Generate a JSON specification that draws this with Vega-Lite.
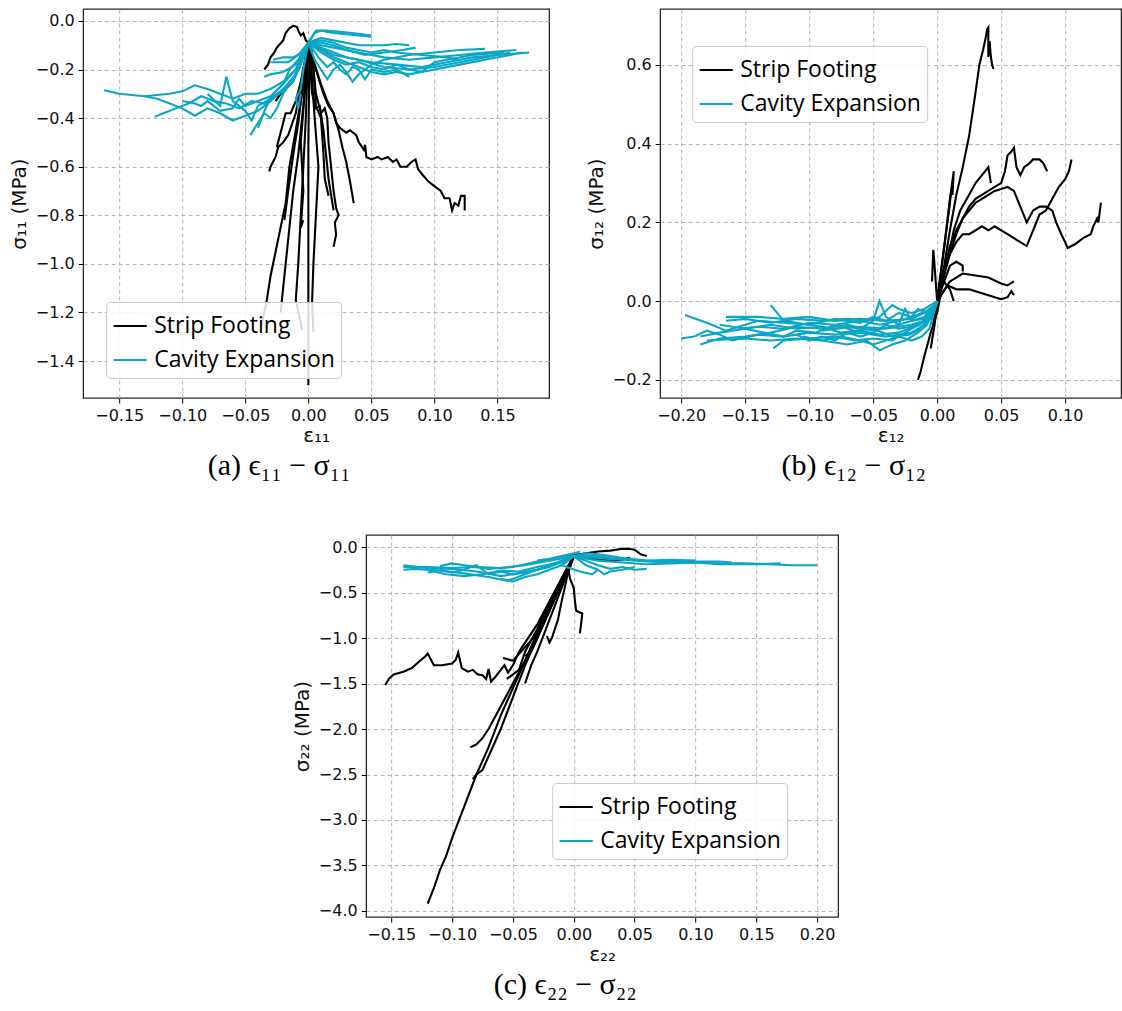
{
"$schema": "https://vega.github.io/schema/vega-lite/v6.json",
"padding": {"left": 8, "top": 8, "right": 2, "bottom": 5},
"config": {
 "view": {"stroke": "#262626", "strokeWidth": 1.3},
 "axis": {"grid": true, "gridDash": [4, 3], "gridColor": "#b5b5b5", "gridWidth": 1, "domain": false, "tickColor": "#000", "tickSize": 5, "tickWidth": 1, "labelFont": "DejaVu Sans", "labelFontSize": 16, "labelColor": "#111", "titleFont": "DejaVu Sans", "titleFontSize": 20, "titleFontWeight": "normal", "titleColor": "#111", "labelPadding": 4, "titlePadding": 6, "labelFlush": false, "labelOverlap": false},
 "axisX": {"titlePadding": 2},
 "legend": {"orient": "none", "title": null, "fillColor": "rgba(255,255,255,0.85)", "strokeColor": "#cccccc", "cornerRadius": 4, "padding": 6, "symbolType": "stroke", "symbolStrokeWidth": 3, "symbolSize": 1100, "labelFont": "Open Sans", "labelFontSize": 23, "labelLimit": 0, "labelColor": "#000", "rowPadding": 4, "labelOffset": 6},
 "title": {"font": "Liberation Serif", "fontSize": 30, "fontWeight": "normal", "color": "#000", "orient": "bottom", "frame": "bounds", "anchor": "middle", "offset": 6},
 "line": {"strokeWidth": 2.1, "clip": true}
},
"datasets": {
"a": [
{"s":"Strip Footing","k":1,"x":-0.035,"y":-0.2},{"s":"Strip Footing","k":1,"x":-0.032,"y":-0.18},{"s":"Strip Footing","k":1,"x":-0.03,"y":-0.15},{"s":"Strip Footing","k":1,"x":-0.027,"y":-0.13},{"s":"Strip Footing","k":1,"x":-0.025,"y":-0.11},{"s":"Strip Footing","k":1,"x":-0.02,"y":-0.08},{"s":"Strip Footing","k":1,"x":-0.018,"y":-0.05},{"s":"Strip Footing","k":1,"x":-0.015,"y":-0.03},{"s":"Strip Footing","k":1,"x":-0.012,"y":-0.02},{"s":"Strip Footing","k":1,"x":-0.009,"y":-0.025},{"s":"Strip Footing","k":1,"x":-0.008,"y":-0.04},{"s":"Strip Footing","k":1,"x":-0.006,"y":-0.06},{"s":"Strip Footing","k":1,"x":-0.004,"y":-0.05},{"s":"Strip Footing","k":1,"x":-0.002,"y":-0.08},{"s":"Strip Footing","k":1,"x":0,"y":-0.09},
{"s":"Strip Footing","k":2,"x":0,"y":-0.09},{"s":"Strip Footing","k":2,"x":0.005,"y":-0.18},{"s":"Strip Footing","k":2,"x":0.01,"y":-0.26},{"s":"Strip Footing","k":2,"x":0.015,"y":-0.33},{"s":"Strip Footing","k":2,"x":0.02,"y":-0.38},{"s":"Strip Footing","k":2,"x":0.022,"y":-0.42},{"s":"Strip Footing","k":2,"x":0.025,"y":-0.44},{"s":"Strip Footing","k":2,"x":0.03,"y":-0.46},{"s":"Strip Footing","k":2,"x":0.033,"y":-0.45},{"s":"Strip Footing","k":2,"x":0.038,"y":-0.47},{"s":"Strip Footing","k":2,"x":0.04,"y":-0.5},{"s":"Strip Footing","k":2,"x":0.044,"y":-0.53},{"s":"Strip Footing","k":2,"x":0.045,"y":-0.51},{"s":"Strip Footing","k":2,"x":0.046,"y":-0.56},{"s":"Strip Footing","k":2,"x":0.05,"y":-0.57},{"s":"Strip Footing","k":2,"x":0.055,"y":-0.56},{"s":"Strip Footing","k":2,"x":0.058,"y":-0.57},{"s":"Strip Footing","k":2,"x":0.063,"y":-0.56},{"s":"Strip Footing","k":2,"x":0.067,"y":-0.58},{"s":"Strip Footing","k":2,"x":0.07,"y":-0.57},{"s":"Strip Footing","k":2,"x":0.073,"y":-0.6},{"s":"Strip Footing","k":2,"x":0.078,"y":-0.6},{"s":"Strip Footing","k":2,"x":0.082,"y":-0.58},{"s":"Strip Footing","k":2,"x":0.085,"y":-0.57},{"s":"Strip Footing","k":2,"x":0.087,"y":-0.61},{"s":"Strip Footing","k":2,"x":0.09,"y":-0.63},{"s":"Strip Footing","k":2,"x":0.095,"y":-0.66},{"s":"Strip Footing","k":2,"x":0.1,"y":-0.68},{"s":"Strip Footing","k":2,"x":0.105,"y":-0.7},{"s":"Strip Footing","k":2,"x":0.108,"y":-0.73},{"s":"Strip Footing","k":2,"x":0.112,"y":-0.73},{"s":"Strip Footing","k":2,"x":0.114,"y":-0.78},{"s":"Strip Footing","k":2,"x":0.116,"y":-0.75},{"s":"Strip Footing","k":2,"x":0.119,"y":-0.76},{"s":"Strip Footing","k":2,"x":0.121,"y":-0.72},{"s":"Strip Footing","k":2,"x":0.124,"y":-0.72},{"s":"Strip Footing","k":2,"x":0.124,"y":-0.78},
{"s":"Strip Footing","k":3,"x":0,"y":-0.09},{"s":"Strip Footing","k":3,"x":0.006,"y":-0.2},{"s":"Strip Footing","k":3,"x":0.012,"y":-0.3},{"s":"Strip Footing","k":3,"x":0.016,"y":-0.35},{"s":"Strip Footing","k":3,"x":0.02,"y":-0.38},{"s":"Strip Footing","k":3,"x":0.024,"y":-0.45},{"s":"Strip Footing","k":3,"x":0.027,"y":-0.52},{"s":"Strip Footing","k":3,"x":0.03,"y":-0.58},{"s":"Strip Footing","k":3,"x":0.033,"y":-0.66},{"s":"Strip Footing","k":3,"x":0.035,"y":-0.72},{"s":"Strip Footing","k":3,"x":0.036,"y":-0.75},
{"s":"Strip Footing","k":4,"x":0.002,"y":-0.09},{"s":"Strip Footing","k":4,"x":0.006,"y":-0.3},{"s":"Strip Footing","k":4,"x":0.01,"y":-0.38},{"s":"Strip Footing","k":4,"x":0.013,"y":-0.36},{"s":"Strip Footing","k":4,"x":0.015,"y":-0.4},{"s":"Strip Footing","k":4,"x":0.016,"y":-0.5},{"s":"Strip Footing","k":4,"x":0.018,"y":-0.6},{"s":"Strip Footing","k":4,"x":0.02,"y":-0.7},{"s":"Strip Footing","k":4,"x":0.022,"y":-0.77},{"s":"Strip Footing","k":4,"x":0.024,"y":-0.8},{"s":"Strip Footing","k":4,"x":0.021,"y":-0.83},{"s":"Strip Footing","k":4,"x":0.022,"y":-0.88},{"s":"Strip Footing","k":4,"x":0.02,"y":-0.93},
{"s":"Strip Footing","k":5,"x":0,"y":-0.09},{"s":"Strip Footing","k":5,"x":0.003,"y":-0.3},{"s":"Strip Footing","k":5,"x":0.006,"y":-0.36},{"s":"Strip Footing","k":5,"x":0.009,"y":-0.35},{"s":"Strip Footing","k":5,"x":0.012,"y":-0.45},{"s":"Strip Footing","k":5,"x":0.014,"y":-0.55},{"s":"Strip Footing","k":5,"x":0.016,"y":-0.65},{"s":"Strip Footing","k":5,"x":0.02,"y":-0.78},
{"s":"Strip Footing","k":6,"x":0,"y":-0.09},{"s":"Strip Footing","k":6,"x":-0.005,"y":-0.3},{"s":"Strip Footing","k":6,"x":-0.01,"y":-0.45},{"s":"Strip Footing","k":6,"x":-0.015,"y":-0.6},{"s":"Strip Footing","k":6,"x":-0.018,"y":-0.75},{"s":"Strip Footing","k":6,"x":-0.022,"y":-0.85},{"s":"Strip Footing","k":6,"x":-0.026,"y":-0.95},{"s":"Strip Footing","k":6,"x":-0.03,"y":-1.05},{"s":"Strip Footing","k":6,"x":-0.033,"y":-1.15},{"s":"Strip Footing","k":6,"x":-0.037,"y":-1.25},
{"s":"Strip Footing","k":7,"x":0,"y":-0.09},{"s":"Strip Footing","k":7,"x":-0.004,"y":-0.35},{"s":"Strip Footing","k":7,"x":-0.008,"y":-0.55},{"s":"Strip Footing","k":7,"x":-0.012,"y":-0.7},{"s":"Strip Footing","k":7,"x":-0.015,"y":-0.85},{"s":"Strip Footing","k":7,"x":-0.018,"y":-1.0},{"s":"Strip Footing","k":7,"x":-0.02,"y":-1.1},{"s":"Strip Footing","k":7,"x":-0.022,"y":-1.2},
{"s":"Strip Footing","k":8,"x":0,"y":-0.09},{"s":"Strip Footing","k":8,"x":-0.002,"y":-0.4},{"s":"Strip Footing","k":8,"x":-0.004,"y":-0.6},{"s":"Strip Footing","k":8,"x":-0.006,"y":-0.8},{"s":"Strip Footing","k":8,"x":-0.008,"y":-1.0},{"s":"Strip Footing","k":8,"x":-0.01,"y":-1.15},{"s":"Strip Footing","k":8,"x":-0.007,"y":-1.22},{"s":"Strip Footing","k":8,"x":-0.005,"y":-1.27},
{"s":"Strip Footing","k":9,"x":0.001,"y":-0.09},{"s":"Strip Footing","k":9,"x":0,"y":-0.5},{"s":"Strip Footing","k":9,"x":0,"y":-1.0},{"s":"Strip Footing","k":9,"x":0,"y":-1.5},
{"s":"Strip Footing","k":10,"x":0.001,"y":-0.09},{"s":"Strip Footing","k":10,"x":0.005,"y":-0.4},{"s":"Strip Footing","k":10,"x":0.008,"y":-0.6},{"s":"Strip Footing","k":10,"x":0.006,"y":-0.8},{"s":"Strip Footing","k":10,"x":0.004,"y":-1.0},{"s":"Strip Footing","k":10,"x":0.003,"y":-1.15},{"s":"Strip Footing","k":10,"x":0.004,"y":-1.28},
{"s":"Strip Footing","k":11,"x":0,"y":-0.09},{"s":"Strip Footing","k":11,"x":-0.003,"y":-0.3},{"s":"Strip Footing","k":11,"x":-0.006,"y":-0.5},{"s":"Strip Footing","k":11,"x":-0.004,"y":-0.7},{"s":"Strip Footing","k":11,"x":-0.006,"y":-0.85},{"s":"Strip Footing","k":11,"x":-0.004,"y":-0.82},
{"s":"Strip Footing","k":12,"x":0,"y":-0.09},{"s":"Strip Footing","k":12,"x":-0.005,"y":-0.25},{"s":"Strip Footing","k":12,"x":-0.01,"y":-0.38},{"s":"Strip Footing","k":12,"x":-0.016,"y":-0.47},{"s":"Strip Footing","k":12,"x":-0.02,"y":-0.5},{"s":"Strip Footing","k":12,"x":-0.024,"y":-0.52},{"s":"Strip Footing","k":12,"x":-0.026,"y":-0.56},{"s":"Strip Footing","k":12,"x":-0.03,"y":-0.6},{"s":"Strip Footing","k":12,"x":-0.031,"y":-0.62},
{"s":"Strip Footing","k":13,"x":0,"y":-0.09},{"s":"Strip Footing","k":13,"x":-0.006,"y":-0.25},{"s":"Strip Footing","k":13,"x":-0.01,"y":-0.33},{"s":"Strip Footing","k":13,"x":-0.014,"y":-0.38},{"s":"Strip Footing","k":13,"x":-0.018,"y":-0.38},{"s":"Strip Footing","k":13,"x":-0.02,"y":-0.42},{"s":"Strip Footing","k":13,"x":-0.023,"y":-0.48},{"s":"Strip Footing","k":13,"x":-0.025,"y":-0.52},
{"s":"Strip Footing","k":14,"x":0,"y":-0.09},{"s":"Strip Footing","k":14,"x":-0.008,"y":-0.2},{"s":"Strip Footing","k":14,"x":-0.014,"y":-0.26},{"s":"Strip Footing","k":14,"x":-0.018,"y":-0.28},{"s":"Strip Footing","k":14,"x":-0.022,"y":-0.3},{"s":"Strip Footing","k":14,"x":-0.026,"y":-0.33},
{"s":"Strip Footing","k":15,"x":0,"y":-0.09},{"s":"Strip Footing","k":15,"x":0.004,"y":-0.2},{"s":"Strip Footing","k":15,"x":0.006,"y":-0.35},{"s":"Strip Footing","k":15,"x":0.01,"y":-0.4},{"s":"Strip Footing","k":15,"x":0.012,"y":-0.55},{"s":"Strip Footing","k":15,"x":0.013,"y":-0.65},{"s":"Strip Footing","k":15,"x":0.016,"y":-0.72},
{"s":"Strip Footing","k":16,"x":0,"y":-0.09},{"s":"Strip Footing","k":16,"x":-0.004,"y":-0.25},{"s":"Strip Footing","k":16,"x":-0.008,"y":-0.42},{"s":"Strip Footing","k":16,"x":-0.012,"y":-0.55},{"s":"Strip Footing","k":16,"x":-0.016,"y":-0.7},{"s":"Strip Footing","k":16,"x":-0.019,"y":-0.82},
{"s":"Cavity Expansion","k":21,"x":0,"y":-0.09},{"s":"Cavity Expansion","k":21,"x":0.005,"y":-0.05},{"s":"Cavity Expansion","k":21,"x":0.01,"y":-0.04},{"s":"Cavity Expansion","k":21,"x":0.02,"y":-0.05},{"s":"Cavity Expansion","k":21,"x":0.03,"y":-0.055},{"s":"Cavity Expansion","k":21,"x":0.04,"y":-0.06},{"s":"Cavity Expansion","k":21,"x":0.05,"y":-0.065},
{"s":"Cavity Expansion","k":22,"x":0,"y":-0.09},{"s":"Cavity Expansion","k":22,"x":0.006,"y":-0.04},{"s":"Cavity Expansion","k":22,"x":0.015,"y":-0.04},{"s":"Cavity Expansion","k":22,"x":0.025,"y":-0.045},{"s":"Cavity Expansion","k":22,"x":0.035,"y":-0.05},{"s":"Cavity Expansion","k":22,"x":0.05,"y":-0.06},
{"s":"Cavity Expansion","k":23,"x":0,"y":-0.09},{"s":"Cavity Expansion","k":23,"x":0.01,"y":-0.07},{"s":"Cavity Expansion","k":23,"x":0.02,"y":-0.08},{"s":"Cavity Expansion","k":23,"x":0.03,"y":-0.09},{"s":"Cavity Expansion","k":23,"x":0.04,"y":-0.1},{"s":"Cavity Expansion","k":23,"x":0.05,"y":-0.1},{"s":"Cavity Expansion","k":23,"x":0.06,"y":-0.1},{"s":"Cavity Expansion","k":23,"x":0.07,"y":-0.095},{"s":"Cavity Expansion","k":23,"x":0.08,"y":-0.1},
{"s":"Cavity Expansion","k":24,"x":0,"y":-0.09},{"s":"Cavity Expansion","k":24,"x":0.01,"y":-0.1},{"s":"Cavity Expansion","k":24,"x":0.02,"y":-0.11},{"s":"Cavity Expansion","k":24,"x":0.04,"y":-0.13},{"s":"Cavity Expansion","k":24,"x":0.06,"y":-0.15},{"s":"Cavity Expansion","k":24,"x":0.08,"y":-0.16},{"s":"Cavity Expansion","k":24,"x":0.1,"y":-0.15},{"s":"Cavity Expansion","k":24,"x":0.12,"y":-0.14},{"s":"Cavity Expansion","k":24,"x":0.14,"y":-0.13},{"s":"Cavity Expansion","k":24,"x":0.165,"y":-0.12},
{"s":"Cavity Expansion","k":25,"x":0,"y":-0.09},{"s":"Cavity Expansion","k":25,"x":0.015,"y":-0.12},{"s":"Cavity Expansion","k":25,"x":0.03,"y":-0.15},{"s":"Cavity Expansion","k":25,"x":0.05,"y":-0.17},{"s":"Cavity Expansion","k":25,"x":0.07,"y":-0.18},{"s":"Cavity Expansion","k":25,"x":0.09,"y":-0.19},{"s":"Cavity Expansion","k":25,"x":0.11,"y":-0.17},{"s":"Cavity Expansion","k":25,"x":0.13,"y":-0.15},{"s":"Cavity Expansion","k":25,"x":0.15,"y":-0.14},{"s":"Cavity Expansion","k":25,"x":0.175,"y":-0.13},
{"s":"Cavity Expansion","k":26,"x":0,"y":-0.09},{"s":"Cavity Expansion","k":26,"x":0.01,"y":-0.13},{"s":"Cavity Expansion","k":26,"x":0.02,"y":-0.16},{"s":"Cavity Expansion","k":26,"x":0.03,"y":-0.18},{"s":"Cavity Expansion","k":26,"x":0.04,"y":-0.17},{"s":"Cavity Expansion","k":26,"x":0.05,"y":-0.19},{"s":"Cavity Expansion","k":26,"x":0.06,"y":-0.2},{"s":"Cavity Expansion","k":26,"x":0.07,"y":-0.18},{"s":"Cavity Expansion","k":26,"x":0.08,"y":-0.2},{"s":"Cavity Expansion","k":26,"x":0.09,"y":-0.21},{"s":"Cavity Expansion","k":26,"x":0.1,"y":-0.17},{"s":"Cavity Expansion","k":26,"x":0.11,"y":-0.16},{"s":"Cavity Expansion","k":26,"x":0.13,"y":-0.14},{"s":"Cavity Expansion","k":26,"x":0.155,"y":-0.13},
{"s":"Cavity Expansion","k":27,"x":0,"y":-0.09},{"s":"Cavity Expansion","k":27,"x":0.008,"y":-0.15},{"s":"Cavity Expansion","k":27,"x":0.015,"y":-0.19},{"s":"Cavity Expansion","k":27,"x":0.02,"y":-0.17},{"s":"Cavity Expansion","k":27,"x":0.025,"y":-0.2},{"s":"Cavity Expansion","k":27,"x":0.03,"y":-0.22},{"s":"Cavity Expansion","k":27,"x":0.035,"y":-0.19},{"s":"Cavity Expansion","k":27,"x":0.04,"y":-0.2},{"s":"Cavity Expansion","k":27,"x":0.045,"y":-0.24},{"s":"Cavity Expansion","k":27,"x":0.05,"y":-0.2},{"s":"Cavity Expansion","k":27,"x":0.06,"y":-0.21},{"s":"Cavity Expansion","k":27,"x":0.07,"y":-0.2},{"s":"Cavity Expansion","k":27,"x":0.08,"y":-0.23},
{"s":"Cavity Expansion","k":28,"x":0,"y":-0.09},{"s":"Cavity Expansion","k":28,"x":0.005,"y":-0.16},{"s":"Cavity Expansion","k":28,"x":0.01,"y":-0.2},{"s":"Cavity Expansion","k":28,"x":0.015,"y":-0.24},{"s":"Cavity Expansion","k":28,"x":0.02,"y":-0.2},{"s":"Cavity Expansion","k":28,"x":0.025,"y":-0.18},{"s":"Cavity Expansion","k":28,"x":0.03,"y":-0.21},{"s":"Cavity Expansion","k":28,"x":0.035,"y":-0.25},{"s":"Cavity Expansion","k":28,"x":0.04,"y":-0.22},{"s":"Cavity Expansion","k":28,"x":0.05,"y":-0.18},{"s":"Cavity Expansion","k":28,"x":0.06,"y":-0.16},{"s":"Cavity Expansion","k":28,"x":0.08,"y":-0.14},{"s":"Cavity Expansion","k":28,"x":0.1,"y":-0.13},{"s":"Cavity Expansion","k":28,"x":0.12,"y":-0.12},{"s":"Cavity Expansion","k":28,"x":0.14,"y":-0.115},
{"s":"Cavity Expansion","k":29,"x":0,"y":-0.09},{"s":"Cavity Expansion","k":29,"x":0.01,"y":-0.09},{"s":"Cavity Expansion","k":29,"x":0.02,"y":-0.1},{"s":"Cavity Expansion","k":29,"x":0.03,"y":-0.12},{"s":"Cavity Expansion","k":29,"x":0.045,"y":-0.14},{"s":"Cavity Expansion","k":29,"x":0.06,"y":-0.13},{"s":"Cavity Expansion","k":29,"x":0.075,"y":-0.12},{"s":"Cavity Expansion","k":29,"x":0.085,"y":-0.11},
{"s":"Cavity Expansion","k":30,"x":0,"y":-0.09},{"s":"Cavity Expansion","k":30,"x":0.02,"y":-0.14},{"s":"Cavity Expansion","k":30,"x":0.04,"y":-0.16},{"s":"Cavity Expansion","k":30,"x":0.06,"y":-0.19},{"s":"Cavity Expansion","k":30,"x":0.08,"y":-0.2},{"s":"Cavity Expansion","k":30,"x":0.1,"y":-0.19},{"s":"Cavity Expansion","k":30,"x":0.12,"y":-0.17},{"s":"Cavity Expansion","k":30,"x":0.14,"y":-0.15},{"s":"Cavity Expansion","k":30,"x":0.16,"y":-0.13},
{"s":"Cavity Expansion","k":31,"x":0,"y":-0.09},{"s":"Cavity Expansion","k":31,"x":-0.005,"y":-0.15},{"s":"Cavity Expansion","k":31,"x":-0.01,"y":-0.2},{"s":"Cavity Expansion","k":31,"x":-0.02,"y":-0.25},{"s":"Cavity Expansion","k":31,"x":-0.03,"y":-0.28},{"s":"Cavity Expansion","k":31,"x":-0.04,"y":-0.3},{"s":"Cavity Expansion","k":31,"x":-0.05,"y":-0.3},{"s":"Cavity Expansion","k":31,"x":-0.06,"y":-0.32},{"s":"Cavity Expansion","k":31,"x":-0.07,"y":-0.3},{"s":"Cavity Expansion","k":31,"x":-0.08,"y":-0.28},{"s":"Cavity Expansion","k":31,"x":-0.09,"y":-0.265},{"s":"Cavity Expansion","k":31,"x":-0.1,"y":-0.29},{"s":"Cavity Expansion","k":31,"x":-0.11,"y":-0.3},{"s":"Cavity Expansion","k":31,"x":-0.13,"y":-0.31},{"s":"Cavity Expansion","k":31,"x":-0.15,"y":-0.3},{"s":"Cavity Expansion","k":31,"x":-0.162,"y":-0.285},
{"s":"Cavity Expansion","k":32,"x":0,"y":-0.09},{"s":"Cavity Expansion","k":32,"x":-0.008,"y":-0.2},{"s":"Cavity Expansion","k":32,"x":-0.015,"y":-0.26},{"s":"Cavity Expansion","k":32,"x":-0.025,"y":-0.3},{"s":"Cavity Expansion","k":32,"x":-0.035,"y":-0.34},{"s":"Cavity Expansion","k":32,"x":-0.045,"y":-0.33},{"s":"Cavity Expansion","k":32,"x":-0.055,"y":-0.36},{"s":"Cavity Expansion","k":32,"x":-0.065,"y":-0.34},{"s":"Cavity Expansion","k":32,"x":-0.075,"y":-0.33},{"s":"Cavity Expansion","k":32,"x":-0.085,"y":-0.31},{"s":"Cavity Expansion","k":32,"x":-0.095,"y":-0.34},{"s":"Cavity Expansion","k":32,"x":-0.105,"y":-0.36},{"s":"Cavity Expansion","k":32,"x":-0.115,"y":-0.38},{"s":"Cavity Expansion","k":32,"x":-0.122,"y":-0.395},
{"s":"Cavity Expansion","k":33,"x":0,"y":-0.09},{"s":"Cavity Expansion","k":33,"x":-0.01,"y":-0.22},{"s":"Cavity Expansion","k":33,"x":-0.02,"y":-0.28},{"s":"Cavity Expansion","k":33,"x":-0.03,"y":-0.33},{"s":"Cavity Expansion","k":33,"x":-0.04,"y":-0.37},{"s":"Cavity Expansion","k":33,"x":-0.05,"y":-0.39},{"s":"Cavity Expansion","k":33,"x":-0.06,"y":-0.41},{"s":"Cavity Expansion","k":33,"x":-0.07,"y":-0.38},{"s":"Cavity Expansion","k":33,"x":-0.08,"y":-0.36},{"s":"Cavity Expansion","k":33,"x":-0.09,"y":-0.39},{"s":"Cavity Expansion","k":33,"x":-0.1,"y":-0.36},{"s":"Cavity Expansion","k":33,"x":-0.11,"y":-0.34},{"s":"Cavity Expansion","k":33,"x":-0.12,"y":-0.32},{"s":"Cavity Expansion","k":33,"x":-0.13,"y":-0.31},
{"s":"Cavity Expansion","k":34,"x":0,"y":-0.09},{"s":"Cavity Expansion","k":34,"x":-0.006,"y":-0.18},{"s":"Cavity Expansion","k":34,"x":-0.012,"y":-0.25},{"s":"Cavity Expansion","k":34,"x":-0.02,"y":-0.29},{"s":"Cavity Expansion","k":34,"x":-0.03,"y":-0.32},{"s":"Cavity Expansion","k":34,"x":-0.04,"y":-0.35},{"s":"Cavity Expansion","k":34,"x":-0.045,"y":-0.41},{"s":"Cavity Expansion","k":34,"x":-0.05,"y":-0.37},{"s":"Cavity Expansion","k":34,"x":-0.06,"y":-0.33},{"s":"Cavity Expansion","k":34,"x":-0.065,"y":-0.23},{"s":"Cavity Expansion","k":34,"x":-0.07,"y":-0.35},{"s":"Cavity Expansion","k":34,"x":-0.08,"y":-0.3},
{"s":"Cavity Expansion","k":35,"x":0,"y":-0.09},{"s":"Cavity Expansion","k":35,"x":-0.01,"y":-0.22},{"s":"Cavity Expansion","k":35,"x":-0.02,"y":-0.3},{"s":"Cavity Expansion","k":35,"x":-0.025,"y":-0.36},{"s":"Cavity Expansion","k":35,"x":-0.03,"y":-0.4},{"s":"Cavity Expansion","k":35,"x":-0.035,"y":-0.38},{"s":"Cavity Expansion","k":35,"x":-0.04,"y":-0.42},{"s":"Cavity Expansion","k":35,"x":-0.046,"y":-0.47},
{"s":"Cavity Expansion","k":36,"x":0,"y":-0.09},{"s":"Cavity Expansion","k":36,"x":-0.008,"y":-0.16},{"s":"Cavity Expansion","k":36,"x":-0.015,"y":-0.2},{"s":"Cavity Expansion","k":36,"x":-0.02,"y":-0.26},{"s":"Cavity Expansion","k":36,"x":-0.028,"y":-0.3},{"s":"Cavity Expansion","k":36,"x":-0.034,"y":-0.36},{"s":"Cavity Expansion","k":36,"x":-0.04,"y":-0.44},
{"s":"Cavity Expansion","k":37,"x":0,"y":-0.09},{"s":"Cavity Expansion","k":37,"x":-0.005,"y":-0.13},{"s":"Cavity Expansion","k":37,"x":-0.012,"y":-0.15},{"s":"Cavity Expansion","k":37,"x":-0.02,"y":-0.15},{"s":"Cavity Expansion","k":37,"x":-0.028,"y":-0.16},
{"s":"Cavity Expansion","k":38,"x":0,"y":-0.09},{"s":"Cavity Expansion","k":38,"x":-0.008,"y":-0.14},{"s":"Cavity Expansion","k":38,"x":-0.016,"y":-0.17},{"s":"Cavity Expansion","k":38,"x":-0.025,"y":-0.17},{"s":"Cavity Expansion","k":38,"x":-0.03,"y":-0.17},
{"s":"Cavity Expansion","k":39,"x":0,"y":-0.09},{"s":"Cavity Expansion","k":39,"x":-0.01,"y":-0.18},{"s":"Cavity Expansion","k":39,"x":-0.02,"y":-0.21},{"s":"Cavity Expansion","k":39,"x":-0.03,"y":-0.22},{"s":"Cavity Expansion","k":39,"x":-0.035,"y":-0.23},
{"s":"Cavity Expansion","k":40,"x":0,"y":-0.09},{"s":"Cavity Expansion","k":40,"x":-0.004,"y":-0.2},{"s":"Cavity Expansion","k":40,"x":-0.006,"y":-0.28},{"s":"Cavity Expansion","k":40,"x":-0.01,"y":-0.32},{"s":"Cavity Expansion","k":40,"x":-0.008,"y":-0.36},{"s":"Cavity Expansion","k":40,"x":-0.006,"y":-0.3},
{"s":"Cavity Expansion","k":41,"x":0,"y":-0.09},{"s":"Cavity Expansion","k":41,"x":0.01,"y":-0.12},{"s":"Cavity Expansion","k":41,"x":0.02,"y":-0.15},{"s":"Cavity Expansion","k":41,"x":0.03,"y":-0.17},{"s":"Cavity Expansion","k":41,"x":0.04,"y":-0.19},{"s":"Cavity Expansion","k":41,"x":0.05,"y":-0.21},{"s":"Cavity Expansion","k":41,"x":0.06,"y":-0.22},{"s":"Cavity Expansion","k":41,"x":0.07,"y":-0.21},{"s":"Cavity Expansion","k":41,"x":0.08,"y":-0.22},{"s":"Cavity Expansion","k":41,"x":0.1,"y":-0.2},{"s":"Cavity Expansion","k":41,"x":0.12,"y":-0.18},{"s":"Cavity Expansion","k":41,"x":0.14,"y":-0.16},{"s":"Cavity Expansion","k":41,"x":0.16,"y":-0.14},{"s":"Cavity Expansion","k":41,"x":0.17,"y":-0.13},
{"s":"Cavity Expansion","k":42,"x":0,"y":-0.09},{"s":"Cavity Expansion","k":42,"x":0.01,"y":-0.08},{"s":"Cavity Expansion","k":42,"x":0.02,"y":-0.09},{"s":"Cavity Expansion","k":42,"x":0.03,"y":-0.11},{"s":"Cavity Expansion","k":42,"x":0.04,"y":-0.12},{"s":"Cavity Expansion","k":42,"x":0.05,"y":-0.13},{"s":"Cavity Expansion","k":42,"x":0.06,"y":-0.12},{"s":"Cavity Expansion","k":42,"x":0.07,"y":-0.13},{"s":"Cavity Expansion","k":42,"x":0.09,"y":-0.14},{"s":"Cavity Expansion","k":42,"x":0.11,"y":-0.15},{"s":"Cavity Expansion","k":42,"x":0.12,"y":-0.16},
{"s":"Cavity Expansion","k":43,"x":0,"y":-0.09},{"s":"Cavity Expansion","k":43,"x":-0.01,"y":-0.2},{"s":"Cavity Expansion","k":43,"x":-0.02,"y":-0.26},{"s":"Cavity Expansion","k":43,"x":-0.03,"y":-0.31},{"s":"Cavity Expansion","k":43,"x":-0.04,"y":-0.33},{"s":"Cavity Expansion","k":43,"x":-0.05,"y":-0.35},{"s":"Cavity Expansion","k":43,"x":-0.055,"y":-0.32},{"s":"Cavity Expansion","k":43,"x":-0.06,"y":-0.36},{"s":"Cavity Expansion","k":43,"x":-0.07,"y":-0.37},{"s":"Cavity Expansion","k":43,"x":-0.08,"y":-0.33},{"s":"Cavity Expansion","k":43,"x":-0.085,"y":-0.35},{"s":"Cavity Expansion","k":43,"x":-0.09,"y":-0.34},{"s":"Cavity Expansion","k":43,"x":-0.1,"y":-0.33}
],
"b": [
{"s":"Strip Footing","k":1,"x":-0.003,"y":-0.06},{"s":"Strip Footing","k":1,"x":0,"y":0},{"s":"Strip Footing","k":1,"x":0.005,"y":0.08},{"s":"Strip Footing","k":1,"x":0.01,"y":0.18},{"s":"Strip Footing","k":1,"x":0.015,"y":0.27},{"s":"Strip Footing","k":1,"x":0.02,"y":0.34},{"s":"Strip Footing","k":1,"x":0.025,"y":0.42},{"s":"Strip Footing","k":1,"x":0.03,"y":0.53},{"s":"Strip Footing","k":1,"x":0.033,"y":0.6},{"s":"Strip Footing","k":1,"x":0.036,"y":0.64},{"s":"Strip Footing","k":1,"x":0.038,"y":0.67},{"s":"Strip Footing","k":1,"x":0.039,"y":0.69},{"s":"Strip Footing","k":1,"x":0.04,"y":0.695},{"s":"Strip Footing","k":1,"x":0.04,"y":0.62},{"s":"Strip Footing","k":1,"x":0.041,"y":0.66},{"s":"Strip Footing","k":1,"x":0.042,"y":0.62},{"s":"Strip Footing","k":1,"x":0.043,"y":0.6},{"s":"Strip Footing","k":1,"x":0.044,"y":0.59},
{"s":"Strip Footing","k":2,"x":0,"y":0},{"s":"Strip Footing","k":2,"x":0.005,"y":0.06},{"s":"Strip Footing","k":2,"x":0.01,"y":0.12},{"s":"Strip Footing","k":2,"x":0.015,"y":0.17},{"s":"Strip Footing","k":2,"x":0.02,"y":0.21},{"s":"Strip Footing","k":2,"x":0.025,"y":0.24},{"s":"Strip Footing","k":2,"x":0.03,"y":0.26},{"s":"Strip Footing","k":2,"x":0.035,"y":0.27},{"s":"Strip Footing","k":2,"x":0.04,"y":0.28},{"s":"Strip Footing","k":2,"x":0.045,"y":0.29},{"s":"Strip Footing","k":2,"x":0.05,"y":0.3},{"s":"Strip Footing","k":2,"x":0.053,"y":0.33},{"s":"Strip Footing","k":2,"x":0.055,"y":0.37},{"s":"Strip Footing","k":2,"x":0.058,"y":0.38},{"s":"Strip Footing","k":2,"x":0.06,"y":0.39},{"s":"Strip Footing","k":2,"x":0.062,"y":0.34},{"s":"Strip Footing","k":2,"x":0.065,"y":0.32},{"s":"Strip Footing","k":2,"x":0.068,"y":0.34},{"s":"Strip Footing","k":2,"x":0.072,"y":0.35},{"s":"Strip Footing","k":2,"x":0.075,"y":0.36},{"s":"Strip Footing","k":2,"x":0.08,"y":0.36},{"s":"Strip Footing","k":2,"x":0.083,"y":0.35},{"s":"Strip Footing","k":2,"x":0.086,"y":0.33},
{"s":"Strip Footing","k":3,"x":0,"y":0},{"s":"Strip Footing","k":3,"x":0.005,"y":0.07},{"s":"Strip Footing","k":3,"x":0.01,"y":0.14},{"s":"Strip Footing","k":3,"x":0.015,"y":0.18},{"s":"Strip Footing","k":3,"x":0.02,"y":0.21},{"s":"Strip Footing","k":3,"x":0.025,"y":0.23},{"s":"Strip Footing","k":3,"x":0.03,"y":0.25},{"s":"Strip Footing","k":3,"x":0.035,"y":0.26},{"s":"Strip Footing","k":3,"x":0.04,"y":0.27},{"s":"Strip Footing","k":3,"x":0.045,"y":0.28},{"s":"Strip Footing","k":3,"x":0.05,"y":0.285},{"s":"Strip Footing","k":3,"x":0.055,"y":0.29},{"s":"Strip Footing","k":3,"x":0.06,"y":0.28},{"s":"Strip Footing","k":3,"x":0.065,"y":0.24},{"s":"Strip Footing","k":3,"x":0.07,"y":0.2},{"s":"Strip Footing","k":3,"x":0.075,"y":0.23},{"s":"Strip Footing","k":3,"x":0.08,"y":0.24},{"s":"Strip Footing","k":3,"x":0.085,"y":0.24},{"s":"Strip Footing","k":3,"x":0.09,"y":0.23},{"s":"Strip Footing","k":3,"x":0.093,"y":0.2},{"s":"Strip Footing","k":3,"x":0.097,"y":0.17},{"s":"Strip Footing","k":3,"x":0.1,"y":0.15},{"s":"Strip Footing","k":3,"x":0.102,"y":0.135},{"s":"Strip Footing","k":3,"x":0.108,"y":0.145},{"s":"Strip Footing","k":3,"x":0.114,"y":0.16},{"s":"Strip Footing","k":3,"x":0.12,"y":0.17},{"s":"Strip Footing","k":3,"x":0.122,"y":0.19},{"s":"Strip Footing","k":3,"x":0.125,"y":0.21},{"s":"Strip Footing","k":3,"x":0.126,"y":0.2},{"s":"Strip Footing","k":3,"x":0.128,"y":0.25},
{"s":"Strip Footing","k":4,"x":0,"y":0},{"s":"Strip Footing","k":4,"x":0.005,"y":0.08},{"s":"Strip Footing","k":4,"x":0.01,"y":0.12},{"s":"Strip Footing","k":4,"x":0.015,"y":0.15},{"s":"Strip Footing","k":4,"x":0.02,"y":0.17},{"s":"Strip Footing","k":4,"x":0.025,"y":0.17},{"s":"Strip Footing","k":4,"x":0.03,"y":0.18},{"s":"Strip Footing","k":4,"x":0.035,"y":0.19},{"s":"Strip Footing","k":4,"x":0.04,"y":0.18},{"s":"Strip Footing","k":4,"x":0.045,"y":0.19},{"s":"Strip Footing","k":4,"x":0.05,"y":0.18},{"s":"Strip Footing","k":4,"x":0.055,"y":0.17},{"s":"Strip Footing","k":4,"x":0.06,"y":0.16},{"s":"Strip Footing","k":4,"x":0.065,"y":0.15},{"s":"Strip Footing","k":4,"x":0.07,"y":0.14},{"s":"Strip Footing","k":4,"x":0.075,"y":0.18},{"s":"Strip Footing","k":4,"x":0.08,"y":0.22},{"s":"Strip Footing","k":4,"x":0.085,"y":0.23},{"s":"Strip Footing","k":4,"x":0.09,"y":0.26},{"s":"Strip Footing","k":4,"x":0.095,"y":0.29},{"s":"Strip Footing","k":4,"x":0.1,"y":0.31},{"s":"Strip Footing","k":4,"x":0.103,"y":0.33},{"s":"Strip Footing","k":4,"x":0.105,"y":0.36},
{"s":"Strip Footing","k":5,"x":0,"y":0},{"s":"Strip Footing","k":5,"x":0.008,"y":0.1},{"s":"Strip Footing","k":5,"x":0.013,"y":0.18},{"s":"Strip Footing","k":5,"x":0.018,"y":0.23},{"s":"Strip Footing","k":5,"x":0.025,"y":0.27},{"s":"Strip Footing","k":5,"x":0.03,"y":0.3},{"s":"Strip Footing","k":5,"x":0.035,"y":0.32},{"s":"Strip Footing","k":5,"x":0.04,"y":0.34},{"s":"Strip Footing","k":5,"x":0.042,"y":0.3},
{"s":"Strip Footing","k":6,"x":0,"y":0},{"s":"Strip Footing","k":6,"x":0.01,"y":0.05},{"s":"Strip Footing","k":6,"x":0.015,"y":0.06},{"s":"Strip Footing","k":6,"x":0.02,"y":0.07},{"s":"Strip Footing","k":6,"x":0.03,"y":0.065},{"s":"Strip Footing","k":6,"x":0.04,"y":0.06},{"s":"Strip Footing","k":6,"x":0.05,"y":0.045},{"s":"Strip Footing","k":6,"x":0.055,"y":0.04},{"s":"Strip Footing","k":6,"x":0.06,"y":0.05},
{"s":"Strip Footing","k":7,"x":0,"y":0},{"s":"Strip Footing","k":7,"x":0.008,"y":0.04},{"s":"Strip Footing","k":7,"x":0.015,"y":0.03},{"s":"Strip Footing","k":7,"x":0.025,"y":0.03},{"s":"Strip Footing","k":7,"x":0.035,"y":0.02},{"s":"Strip Footing","k":7,"x":0.045,"y":0.01},{"s":"Strip Footing","k":7,"x":0.05,"y":0.005},{"s":"Strip Footing","k":7,"x":0.055,"y":0.01},{"s":"Strip Footing","k":7,"x":0.058,"y":0.025},{"s":"Strip Footing","k":7,"x":0.06,"y":0.015},
{"s":"Strip Footing","k":8,"x":0.003,"y":0.02},{"s":"Strip Footing","k":8,"x":0,"y":-0.03},{"s":"Strip Footing","k":8,"x":-0.005,"y":-0.08},{"s":"Strip Footing","k":8,"x":-0.01,"y":-0.14},{"s":"Strip Footing","k":8,"x":-0.013,"y":-0.18},{"s":"Strip Footing","k":8,"x":-0.015,"y":-0.2},
{"s":"Strip Footing","k":9,"x":0,"y":0},{"s":"Strip Footing","k":9,"x":-0.002,"y":-0.06},{"s":"Strip Footing","k":9,"x":-0.005,"y":-0.12},{"s":"Strip Footing","k":9,"x":-0.004,"y":-0.1},
{"s":"Strip Footing","k":10,"x":0,"y":0},{"s":"Strip Footing","k":10,"x":0.006,"y":0.15},{"s":"Strip Footing","k":10,"x":0.01,"y":0.26},{"s":"Strip Footing","k":10,"x":0.013,"y":0.33},{"s":"Strip Footing","k":10,"x":0.012,"y":0.27},
{"s":"Strip Footing","k":11,"x":0,"y":0},{"s":"Strip Footing","k":11,"x":0.008,"y":0.2},{"s":"Strip Footing","k":11,"x":0.011,"y":0.28},{"s":"Strip Footing","k":11,"x":0.009,"y":0.22},
{"s":"Strip Footing","k":12,"x":-0.004,"y":0.05},{"s":"Strip Footing","k":12,"x":-0.003,"y":0.13},{"s":"Strip Footing","k":12,"x":-0.002,"y":0.09},{"s":"Strip Footing","k":12,"x":0,"y":0},
{"s":"Strip Footing","k":13,"x":0,"y":0},{"s":"Strip Footing","k":13,"x":0.01,"y":0.09},{"s":"Strip Footing","k":13,"x":0.015,"y":0.1},{"s":"Strip Footing","k":13,"x":0.02,"y":0.09},{"s":"Strip Footing","k":13,"x":0.02,"y":0.075},
{"s":"Strip Footing","k":14,"x":0,"y":0},{"s":"Strip Footing","k":14,"x":0.005,"y":0.05},{"s":"Strip Footing","k":14,"x":0.01,"y":0.03},{"s":"Strip Footing","k":14,"x":0.012,"y":0.01},{"s":"Strip Footing","k":14,"x":0.013,"y":0},
{"s":"Cavity Expansion","k":21,"x":0,"y":0},{"s":"Cavity Expansion","k":21,"x":-0.005,"y":-0.03},{"s":"Cavity Expansion","k":21,"x":-0.01,"y":-0.05},{"s":"Cavity Expansion","k":21,"x":-0.02,"y":-0.06},{"s":"Cavity Expansion","k":21,"x":-0.04,"y":-0.07},{"s":"Cavity Expansion","k":21,"x":-0.06,"y":-0.065},{"s":"Cavity Expansion","k":21,"x":-0.08,"y":-0.07},{"s":"Cavity Expansion","k":21,"x":-0.1,"y":-0.06},{"s":"Cavity Expansion","k":21,"x":-0.12,"y":-0.055},{"s":"Cavity Expansion","k":21,"x":-0.14,"y":-0.05},{"s":"Cavity Expansion","k":21,"x":-0.165,"y":-0.075},{"s":"Cavity Expansion","k":21,"x":-0.18,"y":-0.055},{"s":"Cavity Expansion","k":21,"x":-0.197,"y":-0.035},
{"s":"Cavity Expansion","k":22,"x":0,"y":0},{"s":"Cavity Expansion","k":22,"x":-0.01,"y":-0.06},{"s":"Cavity Expansion","k":22,"x":-0.02,"y":-0.08},{"s":"Cavity Expansion","k":22,"x":-0.04,"y":-0.09},{"s":"Cavity Expansion","k":22,"x":-0.06,"y":-0.08},{"s":"Cavity Expansion","k":22,"x":-0.08,"y":-0.085},{"s":"Cavity Expansion","k":22,"x":-0.1,"y":-0.08},{"s":"Cavity Expansion","k":22,"x":-0.12,"y":-0.09},{"s":"Cavity Expansion","k":22,"x":-0.14,"y":-0.085},{"s":"Cavity Expansion","k":22,"x":-0.16,"y":-0.1},{"s":"Cavity Expansion","k":22,"x":-0.17,"y":-0.085},{"s":"Cavity Expansion","k":22,"x":-0.18,"y":-0.075},{"s":"Cavity Expansion","k":22,"x":-0.19,"y":-0.09},{"s":"Cavity Expansion","k":22,"x":-0.2,"y":-0.095},
{"s":"Cavity Expansion","k":23,"x":0,"y":0},{"s":"Cavity Expansion","k":23,"x":-0.01,"y":-0.04},{"s":"Cavity Expansion","k":23,"x":-0.03,"y":-0.06},{"s":"Cavity Expansion","k":23,"x":-0.05,"y":-0.075},{"s":"Cavity Expansion","k":23,"x":-0.07,"y":-0.06},{"s":"Cavity Expansion","k":23,"x":-0.09,"y":-0.07},{"s":"Cavity Expansion","k":23,"x":-0.11,"y":-0.065},{"s":"Cavity Expansion","k":23,"x":-0.13,"y":-0.08},{"s":"Cavity Expansion","k":23,"x":-0.15,"y":-0.09},{"s":"Cavity Expansion","k":23,"x":-0.17,"y":-0.095},{"s":"Cavity Expansion","k":23,"x":-0.185,"y":-0.11},
{"s":"Cavity Expansion","k":24,"x":0,"y":-0.005},{"s":"Cavity Expansion","k":24,"x":-0.008,"y":-0.05},{"s":"Cavity Expansion","k":24,"x":-0.02,"y":-0.07},{"s":"Cavity Expansion","k":24,"x":-0.035,"y":-0.1},{"s":"Cavity Expansion","k":24,"x":-0.05,"y":-0.095},{"s":"Cavity Expansion","k":24,"x":-0.065,"y":-0.1},{"s":"Cavity Expansion","k":24,"x":-0.08,"y":-0.09},{"s":"Cavity Expansion","k":24,"x":-0.1,"y":-0.095},{"s":"Cavity Expansion","k":24,"x":-0.12,"y":-0.1},{"s":"Cavity Expansion","k":24,"x":-0.128,"y":-0.12},
{"s":"Cavity Expansion","k":25,"x":0,"y":-0.005},{"s":"Cavity Expansion","k":25,"x":-0.01,"y":-0.03},{"s":"Cavity Expansion","k":25,"x":-0.02,"y":-0.045},{"s":"Cavity Expansion","k":25,"x":-0.04,"y":-0.05},{"s":"Cavity Expansion","k":25,"x":-0.06,"y":-0.045},{"s":"Cavity Expansion","k":25,"x":-0.08,"y":-0.05},{"s":"Cavity Expansion","k":25,"x":-0.1,"y":-0.04},{"s":"Cavity Expansion","k":25,"x":-0.12,"y":-0.045},{"s":"Cavity Expansion","k":25,"x":-0.14,"y":-0.04},{"s":"Cavity Expansion","k":25,"x":-0.165,"y":-0.04},
{"s":"Cavity Expansion","k":26,"x":0,"y":0},{"s":"Cavity Expansion","k":26,"x":-0.006,"y":-0.04},{"s":"Cavity Expansion","k":26,"x":-0.015,"y":-0.06},{"s":"Cavity Expansion","k":26,"x":-0.03,"y":-0.08},{"s":"Cavity Expansion","k":26,"x":-0.045,"y":-0.085},{"s":"Cavity Expansion","k":26,"x":-0.06,"y":-0.075},{"s":"Cavity Expansion","k":26,"x":-0.075,"y":-0.08},{"s":"Cavity Expansion","k":26,"x":-0.09,"y":-0.065},{"s":"Cavity Expansion","k":26,"x":-0.11,"y":-0.07},{"s":"Cavity Expansion","k":26,"x":-0.13,"y":-0.06},{"s":"Cavity Expansion","k":26,"x":-0.15,"y":-0.07},{"s":"Cavity Expansion","k":26,"x":-0.17,"y":-0.06},
{"s":"Cavity Expansion","k":27,"x":0,"y":0},{"s":"Cavity Expansion","k":27,"x":-0.01,"y":-0.05},{"s":"Cavity Expansion","k":27,"x":-0.02,"y":-0.065},{"s":"Cavity Expansion","k":27,"x":-0.03,"y":-0.07},{"s":"Cavity Expansion","k":27,"x":-0.04,"y":-0.06},{"s":"Cavity Expansion","k":27,"x":-0.05,"y":-0.08},{"s":"Cavity Expansion","k":27,"x":-0.06,"y":-0.09},{"s":"Cavity Expansion","k":27,"x":-0.07,"y":-0.08},{"s":"Cavity Expansion","k":27,"x":-0.08,"y":-0.1},{"s":"Cavity Expansion","k":27,"x":-0.09,"y":-0.09},{"s":"Cavity Expansion","k":27,"x":-0.1,"y":-0.1},{"s":"Cavity Expansion","k":27,"x":-0.11,"y":-0.085},
{"s":"Cavity Expansion","k":28,"x":0,"y":0},{"s":"Cavity Expansion","k":28,"x":-0.005,"y":-0.02},{"s":"Cavity Expansion","k":28,"x":-0.012,"y":-0.03},{"s":"Cavity Expansion","k":28,"x":-0.02,"y":-0.04},{"s":"Cavity Expansion","k":28,"x":-0.03,"y":-0.03},{"s":"Cavity Expansion","k":28,"x":-0.04,"y":-0.05},{"s":"Cavity Expansion","k":28,"x":-0.05,"y":-0.04},{"s":"Cavity Expansion","k":28,"x":-0.06,"y":-0.055},{"s":"Cavity Expansion","k":28,"x":-0.08,"y":-0.045},{"s":"Cavity Expansion","k":28,"x":-0.1,"y":-0.06},{"s":"Cavity Expansion","k":28,"x":-0.12,"y":-0.05},{"s":"Cavity Expansion","k":28,"x":-0.125,"y":-0.03},{"s":"Cavity Expansion","k":28,"x":-0.13,"y":-0.01},
{"s":"Cavity Expansion","k":29,"x":0,"y":0},{"s":"Cavity Expansion","k":29,"x":-0.004,"y":-0.03},{"s":"Cavity Expansion","k":29,"x":-0.01,"y":-0.045},{"s":"Cavity Expansion","k":29,"x":-0.02,"y":-0.05},{"s":"Cavity Expansion","k":29,"x":-0.025,"y":-0.02},{"s":"Cavity Expansion","k":29,"x":-0.03,"y":-0.06},{"s":"Cavity Expansion","k":29,"x":-0.04,"y":-0.04},{"s":"Cavity Expansion","k":29,"x":-0.045,"y":0},{"s":"Cavity Expansion","k":29,"x":-0.05,"y":-0.05},{"s":"Cavity Expansion","k":29,"x":-0.06,"y":-0.07},{"s":"Cavity Expansion","k":29,"x":-0.07,"y":-0.065},{"s":"Cavity Expansion","k":29,"x":-0.09,"y":-0.075},
{"s":"Cavity Expansion","k":30,"x":0,"y":0},{"s":"Cavity Expansion","k":30,"x":-0.008,"y":-0.06},{"s":"Cavity Expansion","k":30,"x":-0.015,"y":-0.08},{"s":"Cavity Expansion","k":30,"x":-0.025,"y":-0.1},{"s":"Cavity Expansion","k":30,"x":-0.035,"y":-0.11},{"s":"Cavity Expansion","k":30,"x":-0.045,"y":-0.125},{"s":"Cavity Expansion","k":30,"x":-0.055,"y":-0.1},{"s":"Cavity Expansion","k":30,"x":-0.07,"y":-0.11},{"s":"Cavity Expansion","k":30,"x":-0.09,"y":-0.1},{"s":"Cavity Expansion","k":30,"x":-0.105,"y":-0.09},
{"s":"Cavity Expansion","k":31,"x":0,"y":0},{"s":"Cavity Expansion","k":31,"x":-0.003,"y":-0.02},{"s":"Cavity Expansion","k":31,"x":-0.008,"y":-0.03},{"s":"Cavity Expansion","k":31,"x":-0.015,"y":-0.02},{"s":"Cavity Expansion","k":31,"x":-0.02,"y":-0.04},{"s":"Cavity Expansion","k":31,"x":-0.03,"y":-0.05},{"s":"Cavity Expansion","k":31,"x":-0.045,"y":-0.06},{"s":"Cavity Expansion","k":31,"x":-0.06,"y":-0.05},{"s":"Cavity Expansion","k":31,"x":-0.08,"y":-0.06},{"s":"Cavity Expansion","k":31,"x":-0.1,"y":-0.055},{"s":"Cavity Expansion","k":31,"x":-0.12,"y":-0.07},{"s":"Cavity Expansion","k":31,"x":-0.14,"y":-0.065},{"s":"Cavity Expansion","k":31,"x":-0.155,"y":-0.07},
{"s":"Cavity Expansion","k":32,"x":0,"y":0},{"s":"Cavity Expansion","k":32,"x":-0.006,"y":-0.07},{"s":"Cavity Expansion","k":32,"x":-0.012,"y":-0.09},{"s":"Cavity Expansion","k":32,"x":-0.02,"y":-0.1},{"s":"Cavity Expansion","k":32,"x":-0.03,"y":-0.09},{"s":"Cavity Expansion","k":32,"x":-0.04,"y":-0.1},{"s":"Cavity Expansion","k":32,"x":-0.05,"y":-0.11},{"s":"Cavity Expansion","k":32,"x":-0.06,"y":-0.1},{"s":"Cavity Expansion","k":32,"x":-0.075,"y":-0.09},{"s":"Cavity Expansion","k":32,"x":-0.09,"y":-0.1},{"s":"Cavity Expansion","k":32,"x":-0.11,"y":-0.095},{"s":"Cavity Expansion","k":32,"x":-0.13,"y":-0.1},{"s":"Cavity Expansion","k":32,"x":-0.15,"y":-0.095},{"s":"Cavity Expansion","k":32,"x":-0.18,"y":-0.1},
{"s":"Cavity Expansion","k":33,"x":0,"y":0},{"s":"Cavity Expansion","k":33,"x":-0.01,"y":-0.02},{"s":"Cavity Expansion","k":33,"x":-0.02,"y":-0.03},{"s":"Cavity Expansion","k":33,"x":-0.03,"y":-0.02},{"s":"Cavity Expansion","k":33,"x":-0.035,"y":-0.01},{"s":"Cavity Expansion","k":33,"x":-0.045,"y":-0.04},{"s":"Cavity Expansion","k":33,"x":-0.055,"y":-0.05},{"s":"Cavity Expansion","k":33,"x":-0.07,"y":-0.045},{"s":"Cavity Expansion","k":33,"x":-0.09,"y":-0.05},{"s":"Cavity Expansion","k":33,"x":-0.11,"y":-0.045},{"s":"Cavity Expansion","k":33,"x":-0.13,"y":-0.055},{"s":"Cavity Expansion","k":33,"x":-0.15,"y":-0.045},{"s":"Cavity Expansion","k":33,"x":-0.165,"y":-0.05},
{"s":"Cavity Expansion","k":34,"x":0,"y":0},{"s":"Cavity Expansion","k":34,"x":-0.004,"y":-0.04},{"s":"Cavity Expansion","k":34,"x":-0.012,"y":-0.07},{"s":"Cavity Expansion","k":34,"x":-0.022,"y":-0.085},{"s":"Cavity Expansion","k":34,"x":-0.035,"y":-0.09},{"s":"Cavity Expansion","k":34,"x":-0.05,"y":-0.07},{"s":"Cavity Expansion","k":34,"x":-0.065,"y":-0.075},{"s":"Cavity Expansion","k":34,"x":-0.08,"y":-0.06},{"s":"Cavity Expansion","k":34,"x":-0.095,"y":-0.08},{"s":"Cavity Expansion","k":34,"x":-0.11,"y":-0.075},{"s":"Cavity Expansion","k":34,"x":-0.12,"y":-0.09},{"s":"Cavity Expansion","k":34,"x":-0.135,"y":-0.08},{"s":"Cavity Expansion","k":34,"x":-0.15,"y":-0.07},{"s":"Cavity Expansion","k":34,"x":-0.17,"y":-0.08},{"s":"Cavity Expansion","k":34,"x":-0.185,"y":-0.09}
],
"c": [
{"s":"Strip Footing","k":1,"x":0,"y":-0.1},{"s":"Strip Footing","k":1,"x":-0.01,"y":-0.35},{"s":"Strip Footing","k":1,"x":-0.02,"y":-0.65},{"s":"Strip Footing","k":1,"x":-0.03,"y":-0.95},{"s":"Strip Footing","k":1,"x":-0.04,"y":-1.25},{"s":"Strip Footing","k":1,"x":-0.05,"y":-1.55},{"s":"Strip Footing","k":1,"x":-0.06,"y":-1.85},{"s":"Strip Footing","k":1,"x":-0.07,"y":-2.2},{"s":"Strip Footing","k":1,"x":-0.08,"y":-2.5},{"s":"Strip Footing","k":1,"x":-0.09,"y":-2.85},{"s":"Strip Footing","k":1,"x":-0.1,"y":-3.2},{"s":"Strip Footing","k":1,"x":-0.105,"y":-3.4},{"s":"Strip Footing","k":1,"x":-0.11,"y":-3.55},{"s":"Strip Footing","k":1,"x":-0.115,"y":-3.75},{"s":"Strip Footing","k":1,"x":-0.12,"y":-3.92},
{"s":"Strip Footing","k":2,"x":0,"y":-0.1},{"s":"Strip Footing","k":2,"x":-0.01,"y":-0.4},{"s":"Strip Footing","k":2,"x":-0.02,"y":-0.7},{"s":"Strip Footing","k":2,"x":-0.03,"y":-1.0},{"s":"Strip Footing","k":2,"x":-0.04,"y":-1.3},{"s":"Strip Footing","k":2,"x":-0.05,"y":-1.65},{"s":"Strip Footing","k":2,"x":-0.06,"y":-2.0},{"s":"Strip Footing","k":2,"x":-0.07,"y":-2.3},{"s":"Strip Footing","k":2,"x":-0.075,"y":-2.45},{"s":"Strip Footing","k":2,"x":-0.08,"y":-2.5},{"s":"Strip Footing","k":2,"x":-0.083,"y":-2.55},
{"s":"Strip Footing","k":3,"x":0,"y":-0.1},{"s":"Strip Footing","k":3,"x":-0.01,"y":-0.35},{"s":"Strip Footing","k":3,"x":-0.02,"y":-0.65},{"s":"Strip Footing","k":3,"x":-0.03,"y":-0.95},{"s":"Strip Footing","k":3,"x":-0.04,"y":-1.25},{"s":"Strip Footing","k":3,"x":-0.05,"y":-1.5},{"s":"Strip Footing","k":3,"x":-0.06,"y":-1.75},{"s":"Strip Footing","k":3,"x":-0.07,"y":-2.0},{"s":"Strip Footing","k":3,"x":-0.075,"y":-2.1},{"s":"Strip Footing","k":3,"x":-0.08,"y":-2.17},{"s":"Strip Footing","k":3,"x":-0.085,"y":-2.2},
{"s":"Strip Footing","k":4,"x":-0.155,"y":-1.52},{"s":"Strip Footing","k":4,"x":-0.152,"y":-1.45},{"s":"Strip Footing","k":4,"x":-0.148,"y":-1.4},{"s":"Strip Footing","k":4,"x":-0.14,"y":-1.37},{"s":"Strip Footing","k":4,"x":-0.133,"y":-1.33},{"s":"Strip Footing","k":4,"x":-0.128,"y":-1.27},{"s":"Strip Footing","k":4,"x":-0.122,"y":-1.2},{"s":"Strip Footing","k":4,"x":-0.12,"y":-1.17},{"s":"Strip Footing","k":4,"x":-0.115,"y":-1.3},{"s":"Strip Footing","k":4,"x":-0.108,"y":-1.3},{"s":"Strip Footing","k":4,"x":-0.1,"y":-1.28},{"s":"Strip Footing","k":4,"x":-0.097,"y":-1.24},{"s":"Strip Footing","k":4,"x":-0.095,"y":-1.16},{"s":"Strip Footing","k":4,"x":-0.092,"y":-1.33},{"s":"Strip Footing","k":4,"x":-0.087,"y":-1.37},{"s":"Strip Footing","k":4,"x":-0.083,"y":-1.35},{"s":"Strip Footing","k":4,"x":-0.079,"y":-1.4},{"s":"Strip Footing","k":4,"x":-0.075,"y":-1.41},{"s":"Strip Footing","k":4,"x":-0.072,"y":-1.45},{"s":"Strip Footing","k":4,"x":-0.07,"y":-1.34},{"s":"Strip Footing","k":4,"x":-0.068,"y":-1.48},{"s":"Strip Footing","k":4,"x":-0.064,"y":-1.42},{"s":"Strip Footing","k":4,"x":-0.06,"y":-1.35},{"s":"Strip Footing","k":4,"x":-0.057,"y":-1.3},{"s":"Strip Footing","k":4,"x":-0.054,"y":-1.38},{"s":"Strip Footing","k":4,"x":-0.05,"y":-1.3},{"s":"Strip Footing","k":4,"x":-0.045,"y":-1.15},{"s":"Strip Footing","k":4,"x":-0.04,"y":-1.05},{"s":"Strip Footing","k":4,"x":-0.03,"y":-0.85},{"s":"Strip Footing","k":4,"x":-0.02,"y":-0.6},{"s":"Strip Footing","k":4,"x":-0.01,"y":-0.35},{"s":"Strip Footing","k":4,"x":0,"y":-0.1},
{"s":"Strip Footing","k":5,"x":0,"y":-0.1},{"s":"Strip Footing","k":5,"x":-0.01,"y":-0.45},{"s":"Strip Footing","k":5,"x":-0.02,"y":-0.8},{"s":"Strip Footing","k":5,"x":-0.03,"y":-1.15},{"s":"Strip Footing","k":5,"x":-0.035,"y":-1.3},{"s":"Strip Footing","k":5,"x":-0.04,"y":-1.5},
{"s":"Strip Footing","k":6,"x":0,"y":-0.1},{"s":"Strip Footing","k":6,"x":-0.005,"y":-0.3},{"s":"Strip Footing","k":6,"x":-0.01,"y":-0.6},{"s":"Strip Footing","k":6,"x":-0.013,"y":-0.8},{"s":"Strip Footing","k":6,"x":-0.018,"y":-1.0},{"s":"Strip Footing","k":6,"x":-0.02,"y":-1.05},{"s":"Strip Footing","k":6,"x":-0.022,"y":-0.98},
{"s":"Strip Footing","k":7,"x":-0.005,"y":-0.2},{"s":"Strip Footing","k":7,"x":-0.003,"y":-0.35},{"s":"Strip Footing","k":7,"x":0,"y":-0.45},{"s":"Strip Footing","k":7,"x":0.001,"y":-0.6},{"s":"Strip Footing","k":7,"x":0.002,"y":-0.7},{"s":"Strip Footing","k":7,"x":0.005,"y":-0.72},{"s":"Strip Footing","k":7,"x":0.007,"y":-0.73},{"s":"Strip Footing","k":7,"x":0.006,"y":-0.85},{"s":"Strip Footing","k":7,"x":0.005,"y":-0.95},
{"s":"Strip Footing","k":8,"x":-0.005,"y":-0.1},{"s":"Strip Footing","k":8,"x":0.01,"y":-0.07},{"s":"Strip Footing","k":8,"x":0.02,"y":-0.05},{"s":"Strip Footing","k":8,"x":0.03,"y":-0.04},{"s":"Strip Footing","k":8,"x":0.04,"y":-0.02},{"s":"Strip Footing","k":8,"x":0.045,"y":-0.02},{"s":"Strip Footing","k":8,"x":0.05,"y":-0.03},{"s":"Strip Footing","k":8,"x":0.055,"y":-0.08},{"s":"Strip Footing","k":8,"x":0.06,"y":-0.1},
{"s":"Strip Footing","k":9,"x":0,"y":-0.1},{"s":"Strip Footing","k":9,"x":0.01,"y":-0.12},{"s":"Strip Footing","k":9,"x":0.02,"y":-0.14},{"s":"Strip Footing","k":9,"x":0.03,"y":-0.15},{"s":"Strip Footing","k":9,"x":0.04,"y":-0.14},{"s":"Strip Footing","k":9,"x":0.045,"y":-0.12},{"s":"Strip Footing","k":9,"x":0.05,"y":-0.15},
{"s":"Strip Footing","k":10,"x":0,"y":-0.1},{"s":"Strip Footing","k":10,"x":-0.01,"y":-0.4},{"s":"Strip Footing","k":10,"x":-0.02,"y":-0.7},{"s":"Strip Footing","k":10,"x":-0.03,"y":-1.0},{"s":"Strip Footing","k":10,"x":-0.035,"y":-1.15},{"s":"Strip Footing","k":10,"x":-0.04,"y":-1.2},
{"s":"Strip Footing","k":11,"x":0,"y":-0.1},{"s":"Strip Footing","k":11,"x":-0.01,"y":-0.35},{"s":"Strip Footing","k":11,"x":-0.02,"y":-0.6},{"s":"Strip Footing","k":11,"x":-0.03,"y":-0.9},{"s":"Strip Footing","k":11,"x":-0.04,"y":-1.15},{"s":"Strip Footing","k":11,"x":-0.045,"y":-1.35},{"s":"Strip Footing","k":11,"x":-0.055,"y":-1.45},
{"s":"Strip Footing","k":12,"x":0,"y":-0.1},{"s":"Strip Footing","k":12,"x":-0.015,"y":-0.55},{"s":"Strip Footing","k":12,"x":-0.03,"y":-0.95},{"s":"Strip Footing","k":12,"x":-0.04,"y":-1.1},{"s":"Strip Footing","k":12,"x":-0.05,"y":-1.25},{"s":"Strip Footing","k":12,"x":-0.058,"y":-1.22},
{"s":"Cavity Expansion","k":21,"x":0,"y":-0.1},{"s":"Cavity Expansion","k":21,"x":-0.02,"y":-0.2},{"s":"Cavity Expansion","k":21,"x":-0.04,"y":-0.3},{"s":"Cavity Expansion","k":21,"x":-0.05,"y":-0.35},{"s":"Cavity Expansion","k":21,"x":-0.055,"y":-0.37},{"s":"Cavity Expansion","k":21,"x":-0.07,"y":-0.33},{"s":"Cavity Expansion","k":21,"x":-0.09,"y":-0.29},{"s":"Cavity Expansion","k":21,"x":-0.11,"y":-0.26},{"s":"Cavity Expansion","k":21,"x":-0.13,"y":-0.24},{"s":"Cavity Expansion","k":21,"x":-0.14,"y":-0.25},
{"s":"Cavity Expansion","k":22,"x":0,"y":-0.1},{"s":"Cavity Expansion","k":22,"x":-0.02,"y":-0.22},{"s":"Cavity Expansion","k":22,"x":-0.04,"y":-0.28},{"s":"Cavity Expansion","k":22,"x":-0.06,"y":-0.32},{"s":"Cavity Expansion","k":22,"x":-0.08,"y":-0.27},{"s":"Cavity Expansion","k":22,"x":-0.1,"y":-0.24},{"s":"Cavity Expansion","k":22,"x":-0.12,"y":-0.23},{"s":"Cavity Expansion","k":22,"x":-0.14,"y":-0.2},
{"s":"Cavity Expansion","k":23,"x":0,"y":-0.1},{"s":"Cavity Expansion","k":23,"x":-0.02,"y":-0.15},{"s":"Cavity Expansion","k":23,"x":-0.04,"y":-0.2},{"s":"Cavity Expansion","k":23,"x":-0.06,"y":-0.23},{"s":"Cavity Expansion","k":23,"x":-0.08,"y":-0.22},{"s":"Cavity Expansion","k":23,"x":-0.1,"y":-0.23},{"s":"Cavity Expansion","k":23,"x":-0.12,"y":-0.22},{"s":"Cavity Expansion","k":23,"x":-0.14,"y":-0.22},
{"s":"Cavity Expansion","k":24,"x":0,"y":-0.1},{"s":"Cavity Expansion","k":24,"x":-0.01,"y":-0.17},{"s":"Cavity Expansion","k":24,"x":-0.03,"y":-0.25},{"s":"Cavity Expansion","k":24,"x":-0.05,"y":-0.3},{"s":"Cavity Expansion","k":24,"x":-0.06,"y":-0.27},{"s":"Cavity Expansion","k":24,"x":-0.07,"y":-0.3},{"s":"Cavity Expansion","k":24,"x":-0.075,"y":-0.25},{"s":"Cavity Expansion","k":24,"x":-0.08,"y":-0.2},{"s":"Cavity Expansion","k":24,"x":-0.085,"y":-0.22},{"s":"Cavity Expansion","k":24,"x":-0.09,"y":-0.25},{"s":"Cavity Expansion","k":24,"x":-0.1,"y":-0.28},{"s":"Cavity Expansion","k":24,"x":-0.11,"y":-0.25},
{"s":"Cavity Expansion","k":25,"x":0,"y":-0.1},{"s":"Cavity Expansion","k":25,"x":-0.015,"y":-0.18},{"s":"Cavity Expansion","k":25,"x":-0.03,"y":-0.22},{"s":"Cavity Expansion","k":25,"x":-0.045,"y":-0.27},{"s":"Cavity Expansion","k":25,"x":-0.06,"y":-0.26},{"s":"Cavity Expansion","k":25,"x":-0.075,"y":-0.3},{"s":"Cavity Expansion","k":25,"x":-0.09,"y":-0.32},{"s":"Cavity Expansion","k":25,"x":-0.105,"y":-0.3},{"s":"Cavity Expansion","k":25,"x":-0.115,"y":-0.27},{"s":"Cavity Expansion","k":25,"x":-0.12,"y":-0.28},
{"s":"Cavity Expansion","k":26,"x":0,"y":-0.1},{"s":"Cavity Expansion","k":26,"x":-0.01,"y":-0.12},{"s":"Cavity Expansion","k":26,"x":-0.03,"y":-0.16},{"s":"Cavity Expansion","k":26,"x":-0.05,"y":-0.22},{"s":"Cavity Expansion","k":26,"x":-0.07,"y":-0.24},{"s":"Cavity Expansion","k":26,"x":-0.09,"y":-0.2},{"s":"Cavity Expansion","k":26,"x":-0.1,"y":-0.18},{"s":"Cavity Expansion","k":26,"x":-0.11,"y":-0.21},
{"s":"Cavity Expansion","k":27,"x":0,"y":-0.1},{"s":"Cavity Expansion","k":27,"x":-0.01,"y":-0.2},{"s":"Cavity Expansion","k":27,"x":-0.02,"y":-0.25},{"s":"Cavity Expansion","k":27,"x":-0.03,"y":-0.3},{"s":"Cavity Expansion","k":27,"x":-0.04,"y":-0.33},{"s":"Cavity Expansion","k":27,"x":-0.05,"y":-0.38},{"s":"Cavity Expansion","k":27,"x":-0.06,"y":-0.35},
{"s":"Cavity Expansion","k":28,"x":0,"y":-0.1},{"s":"Cavity Expansion","k":28,"x":0.02,"y":-0.12},{"s":"Cavity Expansion","k":28,"x":0.04,"y":-0.14},{"s":"Cavity Expansion","k":28,"x":0.06,"y":-0.16},{"s":"Cavity Expansion","k":28,"x":0.08,"y":-0.17},{"s":"Cavity Expansion","k":28,"x":0.1,"y":-0.17},{"s":"Cavity Expansion","k":28,"x":0.12,"y":-0.18},{"s":"Cavity Expansion","k":28,"x":0.14,"y":-0.18},{"s":"Cavity Expansion","k":28,"x":0.16,"y":-0.19},{"s":"Cavity Expansion","k":28,"x":0.18,"y":-0.2},{"s":"Cavity Expansion","k":28,"x":0.2,"y":-0.2},
{"s":"Cavity Expansion","k":29,"x":0,"y":-0.1},{"s":"Cavity Expansion","k":29,"x":0.02,"y":-0.15},{"s":"Cavity Expansion","k":29,"x":0.04,"y":-0.17},{"s":"Cavity Expansion","k":29,"x":0.06,"y":-0.19},{"s":"Cavity Expansion","k":29,"x":0.08,"y":-0.18},{"s":"Cavity Expansion","k":29,"x":0.1,"y":-0.17},{"s":"Cavity Expansion","k":29,"x":0.12,"y":-0.19},{"s":"Cavity Expansion","k":29,"x":0.15,"y":-0.19},{"s":"Cavity Expansion","k":29,"x":0.17,"y":-0.18},
{"s":"Cavity Expansion","k":30,"x":0,"y":-0.1},{"s":"Cavity Expansion","k":30,"x":0.01,"y":-0.15},{"s":"Cavity Expansion","k":30,"x":0.02,"y":-0.2},{"s":"Cavity Expansion","k":30,"x":0.03,"y":-0.24},{"s":"Cavity Expansion","k":30,"x":0.04,"y":-0.22},{"s":"Cavity Expansion","k":30,"x":0.05,"y":-0.25},{"s":"Cavity Expansion","k":30,"x":0.06,"y":-0.24},
{"s":"Cavity Expansion","k":31,"x":0,"y":-0.1},{"s":"Cavity Expansion","k":31,"x":0.01,"y":-0.2},{"s":"Cavity Expansion","k":31,"x":0.02,"y":-0.25},{"s":"Cavity Expansion","k":31,"x":0.025,"y":-0.3},{"s":"Cavity Expansion","k":31,"x":0.03,"y":-0.27},{"s":"Cavity Expansion","k":31,"x":0.04,"y":-0.25},{"s":"Cavity Expansion","k":31,"x":0.05,"y":-0.22},
{"s":"Cavity Expansion","k":32,"x":0,"y":-0.1},{"s":"Cavity Expansion","k":32,"x":0.01,"y":-0.07},{"s":"Cavity Expansion","k":32,"x":0.02,"y":-0.08},{"s":"Cavity Expansion","k":32,"x":0.03,"y":-0.1},{"s":"Cavity Expansion","k":32,"x":0.04,"y":-0.12},{"s":"Cavity Expansion","k":32,"x":0.06,"y":-0.15},{"s":"Cavity Expansion","k":32,"x":0.08,"y":-0.14},{"s":"Cavity Expansion","k":32,"x":0.1,"y":-0.15},
{"s":"Cavity Expansion","k":33,"x":-0.03,"y":-0.15},{"s":"Cavity Expansion","k":33,"x":-0.02,"y":-0.13},{"s":"Cavity Expansion","k":33,"x":-0.01,"y":-0.1},{"s":"Cavity Expansion","k":33,"x":0,"y":-0.07},{"s":"Cavity Expansion","k":33,"x":0.005,"y":-0.05},
{"s":"Cavity Expansion","k":34,"x":0,"y":-0.1},{"s":"Cavity Expansion","k":34,"x":0.02,"y":-0.1},{"s":"Cavity Expansion","k":34,"x":0.03,"y":-0.12},{"s":"Cavity Expansion","k":34,"x":0.05,"y":-0.14},{"s":"Cavity Expansion","k":34,"x":0.07,"y":-0.16},{"s":"Cavity Expansion","k":34,"x":0.09,"y":-0.16},{"s":"Cavity Expansion","k":34,"x":0.12,"y":-0.16},{"s":"Cavity Expansion","k":34,"x":0.13,"y":-0.17},
{"s":"Cavity Expansion","k":35,"x":0,"y":-0.1},{"s":"Cavity Expansion","k":35,"x":-0.005,"y":-0.15},{"s":"Cavity Expansion","k":35,"x":-0.01,"y":-0.2},{"s":"Cavity Expansion","k":35,"x":0.005,"y":-0.27},{"s":"Cavity Expansion","k":35,"x":0.015,"y":-0.3},{"s":"Cavity Expansion","k":35,"x":0.02,"y":-0.25}
]
},
"vconcat": [
 {
  "hconcat": [
   {
    "width": 466, "height": 389,
    "data": {"name": "a"},
    "title": {"text": "(a) ϵ₁₁ − σ₁₁"},
    "mark": {"type": "line"},
    "encoding": {
     "x": {"field": "x", "type": "quantitative", "scale": {"domain": [-0.1786, 0.191], "nice": false, "zero": false}, "axis": {"title": "ε₁₁", "values": [-0.15, -0.1, -0.05, 0, 0.05, 0.1, 0.15], "format": ".2f"}},
     "y": {"field": "y", "type": "quantitative", "scale": {"domain": [-1.552, 0.049], "nice": false, "zero": false}, "axis": {"title": "σ₁₁ (MPa)", "values": [0, -0.2, -0.4, -0.6, -0.8, -1.0, -1.2, -1.4], "format": ".1f"}},
     "color": {"field": "s", "type": "nominal", "scale": {"domain": ["Strip Footing", "Cavity Expansion"], "range": ["#000000", "#0aa6c6"]}, "legend": {"legendX": 23, "legendY": 293}},
     "detail": {"field": "k", "type": "nominal"},
     "order": {"value": null}
    }
   },
   {
    "width": 461, "height": 389,
    "data": {"name": "b"},
    "title": {"text": "(b) ϵ₁₂ − σ₁₂"},
    "mark": {"type": "line"},
    "encoding": {
     "x": {"field": "x", "type": "quantitative", "scale": {"domain": [-0.2164, 0.1438], "nice": false, "zero": false}, "axis": {"title": "ε₁₂", "values": [-0.2, -0.15, -0.1, -0.05, 0, 0.05, 0.1], "format": ".2f"}},
     "y": {"field": "y", "type": "quantitative", "scale": {"domain": [-0.246, 0.742], "nice": false, "zero": false}, "axis": {"title": "σ₁₂ (MPa)", "values": [-0.2, 0, 0.2, 0.4, 0.6], "format": ".1f"}},
     "color": {"field": "s", "type": "nominal", "scale": {"domain": ["Strip Footing", "Cavity Expansion"], "range": ["#000000", "#0aa6c6"]}, "legend": {"legendX": 32, "legendY": 37}},
     "detail": {"field": "k", "type": "nominal"},
     "order": {"value": null}
    }
   }
  ],
  "spacing": 35,
  "resolve": {"scale": {"x": "independent", "y": "independent", "color": "independent"}, "legend": {"color": "independent"}}
 },
 {
  "width": 472, "height": 382,
  "data": {"name": "c"},
  "title": {"text": "(c) ϵ₂₂ − σ₂₂"},
  "mark": {"type": "line"},
  "encoding": {
   "x": {"field": "x", "type": "quantitative", "scale": {"domain": [-0.1706, 0.2173], "nice": false, "zero": false}, "axis": {"title": "ε₂₂", "values": [-0.15, -0.1, -0.05, 0, 0.05, 0.1, 0.15, 0.2], "format": ".2f"}},
   "y": {"field": "y", "type": "quantitative", "scale": {"domain": [-4.066, 0.132], "nice": false, "zero": false}, "axis": {"title": "σ₂₂ (MPa)", "values": [0, -0.5, -1.0, -1.5, -2.0, -2.5, -3.0, -3.5, -4.0], "format": ".1f"}},
   "color": {"field": "s", "type": "nominal", "scale": {"domain": ["Strip Footing", "Cavity Expansion"], "range": ["#000000", "#0aa6c6"]}, "legend": {"legendX": 186, "legendY": 248}},
   "detail": {"field": "k", "type": "nominal"},
   "order": {"value": null}
  }
 }
],
"spacing": 52,
"center": true,
"resolve": {"scale": {"x": "independent", "y": "independent", "color": "independent"}, "legend": {"color": "independent"}}
}
